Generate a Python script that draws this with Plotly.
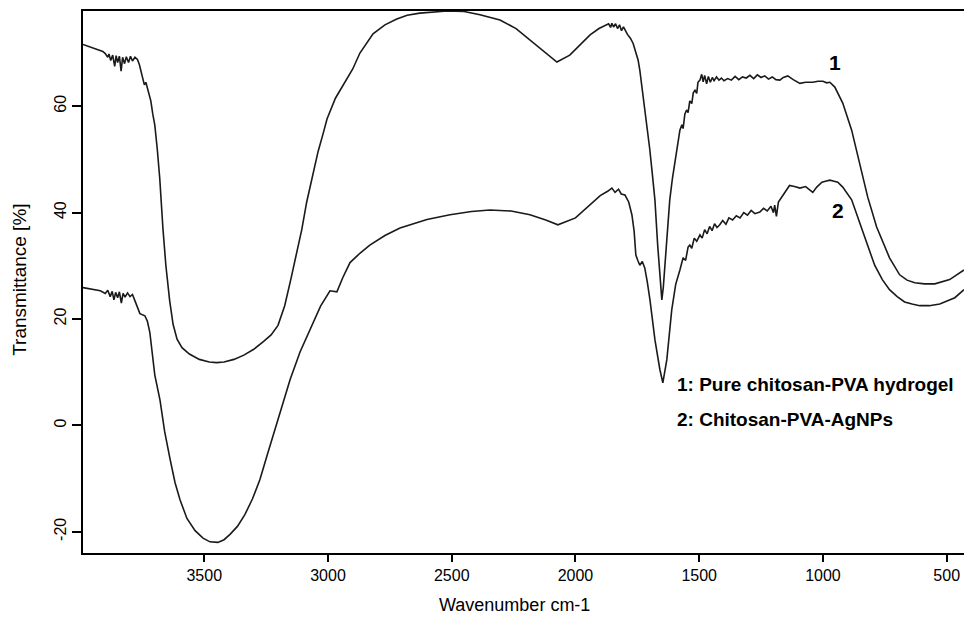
import plotly.graph_objects as go

# Curve 1: Pure chitosan-PVA hydrogel
wn1 = [3990, 3960, 3930, 3910, 3900, 3890, 3885, 3878, 3870, 3862, 3856, 3850, 3843, 3836, 3830,
       3822, 3815, 3806, 3798, 3790, 3780, 3770, 3762, 3755, 3748, 3742, 3736, 3730, 3724, 3716,
       3708, 3700, 3690, 3680, 3667, 3655, 3640, 3626, 3610, 3590, 3560, 3520, 3480, 3450, 3420,
       3380, 3340, 3300, 3260, 3230, 3202, 3175, 3150, 3125, 3106, 3086, 3060, 3040, 3020, 3004,
       2970, 2940, 2900, 2871, 2818, 2770, 2722, 2680, 2629, 2519, 2450, 2386, 2305, 2240, 2184,
       2124, 2075, 2023, 1980, 1941, 1905, 1881, 1866, 1858, 1853, 1846, 1838, 1830, 1822, 1814,
       1806, 1790, 1778, 1767, 1757, 1747, 1740, 1733, 1725, 1713, 1700, 1690, 1679, 1668, 1658,
       1651, 1645, 1639, 1630, 1619, 1608, 1598, 1588, 1578, 1570, 1565, 1558, 1551, 1545, 1538,
       1530, 1524, 1517, 1510, 1505, 1497, 1490, 1484, 1478, 1470, 1463, 1455, 1447, 1440, 1430,
       1420, 1410, 1400, 1385, 1370, 1355, 1340, 1325, 1310, 1295, 1280, 1265, 1250, 1235, 1220,
       1205, 1190, 1174, 1160, 1142, 1120, 1093, 1070, 1041, 1020, 1000, 985, 972, 952, 920,
       884, 851, 819, 783, 750, 731, 690, 660, 629, 590, 548, 488, 430]
t1 = [71.6, 71.1, 70.7, 70.3, 69.9, 69.2, 69.8, 68.6, 69.6, 67.5, 69.5, 68.2, 69.4, 66.6, 69.2,
      68.0, 69.3, 68.2, 69.4, 68.5, 69.2, 68.8, 67.8, 66.5, 64.8, 64.0, 64.5, 63.4, 62.8, 61.0,
      58.5, 56.5, 52.0, 46.5, 37.0, 30.0, 23.5, 19.0, 16.2, 14.6, 13.4, 12.4, 11.9, 11.8, 11.9,
      12.4, 13.2, 14.3, 15.8, 17.0, 18.8, 22.5, 27.5, 32.5, 36.8, 42.0, 47.5, 51.5, 54.8, 57.6,
      61.5, 63.8, 67.0, 70.0, 73.6, 75.3, 76.4, 77.1, 77.5, 77.9, 77.8, 77.2, 76.2, 74.6, 72.5,
      70.2, 68.3, 69.6, 71.5, 73.4, 74.6, 75.2, 75.5, 74.8, 75.6, 74.9, 75.5, 74.6, 75.3, 74.2,
      74.9, 73.5, 72.8, 71.8, 70.3, 68.7, 66.8, 64.3, 61.0, 57.4, 52.0, 47.5, 42.4, 34.0, 27.3,
      23.6, 26.0, 30.0, 36.0, 42.4, 46.5, 50.0, 52.5, 55.5, 56.5, 55.8, 58.5, 59.3, 58.8, 61.0,
      60.5, 62.5, 63.0, 62.4, 64.5, 64.9, 66.0, 64.6, 65.8, 64.2, 65.6, 64.5, 65.4, 64.8, 65.5,
      64.9, 65.3, 64.8, 65.2, 64.9, 65.6, 65.0, 65.5, 65.3, 65.8, 65.2, 65.9, 65.4, 65.7, 65.1,
      65.5, 65.0, 64.9, 65.4, 65.7, 65.0, 64.3, 64.5, 64.5, 64.7, 64.7, 64.4, 64.5, 63.6, 60.6,
      55.5, 49.3, 42.9, 37.3, 33.5, 31.5, 28.3, 27.3, 26.8, 26.6, 26.6, 27.4, 29.2]

# Curve 2: Chitosan-PVA-AgNPs
wn2 = [3990, 3950, 3920, 3900, 3890, 3880, 3872, 3865, 3858, 3850, 3843, 3835, 3828, 3820, 3810,
       3800, 3790, 3780, 3770, 3760, 3740, 3730, 3720, 3710, 3700, 3679, 3660, 3638, 3618, 3598,
       3570, 3537, 3505, 3477, 3445, 3420, 3396, 3366, 3336, 3305, 3275, 3245, 3214, 3183, 3153,
       3113, 3073, 3030, 2992, 2964, 2940, 2911, 2870, 2831, 2770, 2709, 2600, 2507, 2420, 2346,
       2260, 2184, 2120, 2071, 2000, 1941, 1900, 1870, 1853, 1840, 1826, 1815, 1800, 1785, 1772,
       1763, 1756, 1748, 1740, 1730, 1720, 1710, 1699, 1679, 1659, 1647, 1631, 1611, 1595, 1578,
       1565, 1555, 1545, 1538, 1530, 1520, 1510, 1497, 1488, 1478, 1468, 1458, 1448, 1438, 1428,
       1417, 1405, 1392, 1380, 1365, 1350, 1335, 1320, 1305, 1290, 1275, 1255, 1240, 1225, 1210,
       1200, 1195, 1188, 1180, 1165, 1150, 1135, 1115, 1093, 1070, 1052, 1041, 1025, 1004, 990,
       972, 955, 940, 920, 884, 844, 791, 760, 731, 700, 670, 640, 609, 570, 528, 467, 430]
t2 = [25.9, 25.6, 25.3, 24.8, 25.4, 24.2, 25.2, 23.6, 25.0, 24.0, 25.1, 23.0, 24.8, 24.1, 24.9,
      24.2, 24.6, 23.4, 22.2, 21.0, 20.6, 19.6, 17.5, 14.0, 9.5, 4.8, -1.2, -6.4, -10.8, -14.0,
      -17.5, -19.8, -21.2, -21.9, -22.0, -21.5, -20.5, -19.0, -16.8, -13.8, -10.2, -5.5, -0.8, 4.2, 8.6,
      13.8, 18.0, 22.4, 25.3, 25.1, 27.8, 30.6, 32.4, 33.9, 35.7, 37.1, 38.7, 39.6, 40.2, 40.5,
      40.3, 39.6, 38.6, 37.7, 39.0, 41.4, 43.2, 44.0, 44.6, 43.8, 44.4, 43.5, 43.3, 42.0, 39.6,
      36.5, 32.0, 31.0, 30.1, 30.8, 29.6, 27.0, 23.6, 16.1, 10.5, 8.0, 12.3, 21.7, 26.5, 29.2,
      31.5, 31.0, 33.5, 33.9, 33.3, 35.2, 34.6, 35.8, 35.2, 36.8, 36.0, 37.4, 36.6, 37.9, 37.2,
      37.7, 38.5, 37.8, 39.0, 38.6, 39.4, 39.0, 40.0, 39.5, 40.4, 39.8, 40.1, 40.8, 40.3, 41.2,
      40.0, 41.4, 39.3, 42.0, 43.0, 44.0, 45.1, 44.9, 44.6, 44.9, 44.2, 43.8, 44.8, 45.7, 45.9,
      46.1, 45.9, 45.7, 44.8, 42.4, 37.1, 30.1, 27.4, 25.5, 24.2, 23.2, 22.8, 22.5, 22.5, 22.8, 24.0, 25.5]

x_ticks = [3500, 3000, 2500, 2000, 1500, 1000, 500]
y_ticks = [-20, 0, 20, 40, 60]
legend_lines = ["1: Pure chitosan-PVA hydrogel", "2: Chitosan-PVA-AgNPs"]

FONT = "Liberation Sans, Arial, sans-serif"
LINE = "#1a1a1a"

fig = go.Figure()
fig.add_trace(go.Scatter(x=wn1, y=t1, mode="lines", line=dict(color=LINE, width=1.6),
                         showlegend=False, hoverinfo="skip"))
fig.add_trace(go.Scatter(x=wn2, y=t2, mode="lines", line=dict(color=LINE, width=1.6),
                         showlegend=False, hoverinfo="skip"))

fig.update_layout(
    width=964, height=617,
    margin=dict(l=83, r=0, t=11, b=64),
    paper_bgcolor="white", plot_bgcolor="white",
    font=dict(family=FONT, color="black", size=16),
    xaxis=dict(range=[3990, 430], tickvals=x_ticks, ticktext=[str(v) for v in x_ticks],
               ticks="outside", ticklen=7, tickwidth=1.5, tickcolor="black",
               showline=True, linecolor="black", linewidth=1.6, mirror=True,
               showgrid=False, zeroline=False, tickfont=dict(size=16)),
    yaxis=dict(range=[-24, 77.9], tickvals=y_ticks, ticktext=[str(v) for v in y_ticks],
               tickangle=-90, ticks="outside", ticklen=9, tickwidth=1.5, tickcolor="black",
               showline=True, linecolor="black", linewidth=1.6,
               showgrid=False, zeroline=False, tickfont=dict(size=16)),
)

annots = [
    dict(text="Wavenumber cm-1", xref="paper", yref="paper", x=0.490, y=-0.096,
         showarrow=False, font=dict(size=18), xanchor="center", yanchor="middle"),
    dict(text="Transmittance [%]", xref="paper", yref="paper", x=-0.0715, y=0.504,
         showarrow=False, font=dict(size=19), textangle=-90, xanchor="center", yanchor="middle"),
    dict(text="<b>1</b>", x=952, y=68.3, xref="x", yref="y", showarrow=False,
         font=dict(size=21), xanchor="center", yanchor="middle"),
    dict(text="<b>2</b>", x=940, y=40.4, xref="x", yref="y", showarrow=False,
         font=dict(size=21), xanchor="center", yanchor="middle"),
    dict(text="<b>" + legend_lines[0] + "</b>", x=1598, y=7.6, xref="x", yref="y",
         showarrow=False, font=dict(size=19), xanchor="left", yanchor="middle"),
    dict(text="<b>" + legend_lines[1] + "</b>", x=1598, y=1.1, xref="x", yref="y",
         showarrow=False, font=dict(size=19), xanchor="left", yanchor="middle"),
]
fig.update_layout(annotations=annots)

fig.write_html("out.html", config={"displayModeBar": False},
               post_script="document.body.style.margin='0';document.body.style.overflow='hidden';")
